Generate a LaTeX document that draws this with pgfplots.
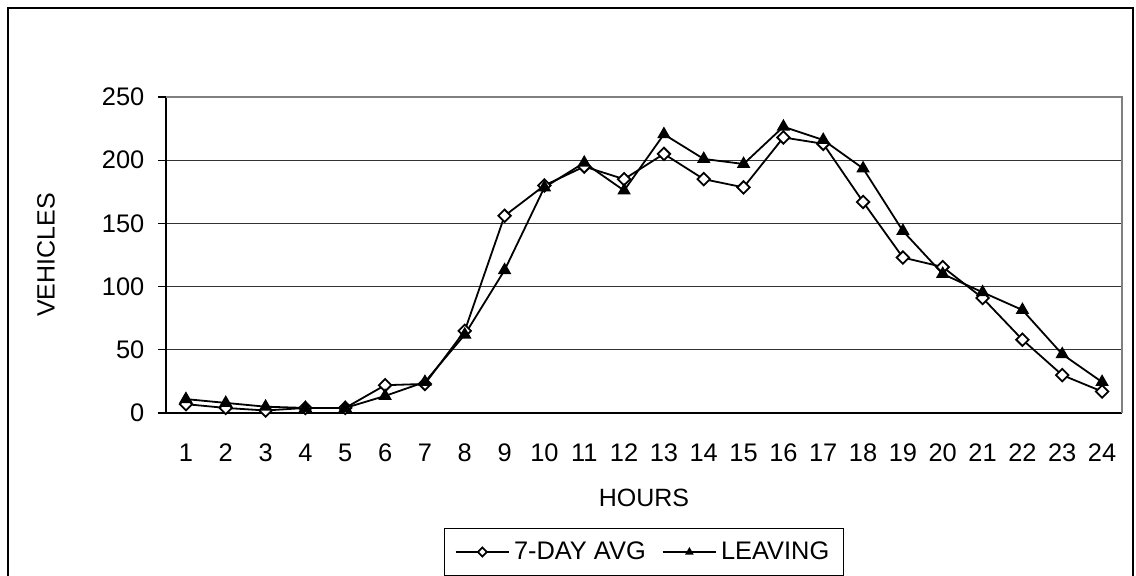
\documentclass[border=0pt]{standalone}
\usepackage{pgfplots}
\pgfplotsset{compat=1.18}
\usepackage{fontspec}
\setmainfont{Liberation Sans}
\begin{document}
\fontsize{12.5}{15}\selectfont
\begin{tikzpicture}
\useasboundingbox (0,0) rectangle (568pt,287.5pt);
\draw[black, line width=0.6pt] (4pt,-2pt) -- (4pt,283.5pt) -- (566.5pt,283.5pt) -- (566.5pt,-2pt);
\begin{axis}[
  at={(83pt,81pt)}, anchor=south west,
  scale only axis, width=478pt, height=158pt,
  xmin=0.5, xmax=24.5, ymin=0, ymax=250,
  xtick={1,...,24},
  minor xtick={0.5,1.5,...,24.5},
  ytick={0,50,...,250},
  tick align=outside,
  major tick length=4pt, minor tick length=4pt,
  xtick style={draw=none},
  minor x tick style={black, line width=0.6pt},
  y tick style={black, line width=0.6pt},
  ymajorgrids, grid style={black!80, line width=0.6pt},
  axis line style={line width=0.6pt},
  axis x line*=bottom, axis y line*=left,
  xticklabel style={yshift=-7pt},
  yticklabel style={xshift=-2.5pt},
  /pgf/number format/assume math mode=true,
  ticklabel style={font=\fontsize{12.7}{15}\selectfont},
  xlabel={HOURS}, ylabel={VEHICLES},
  xlabel style={at={(axis description cs:0.5,-0.268)}, anchor=center, font=\fontsize{12.5}{15}\selectfont},
  ylabel style={at={(axis description cs:-0.1255,0.5)}, anchor=center, font=\fontsize{12.5}{15}\selectfont},
  legend columns=2,
  legend style={at={(axis description cs:0.5,-0.44)}, anchor=center, draw=black, line width=0.6pt,
    font=\fontsize{12.7}{15}\selectfont, inner xsep=5pt, inner ysep=4.5pt,
    /tikz/every even column/.append style={column sep=6pt}},
  legend image code/.code={\draw[mark repeat=2,mark phase=2,#1,mark size=1.6pt] plot coordinates {(0cm,0cm) (0.47cm,0cm) (0.94cm,0cm)};},
  clip=false,
]
\draw[black!50, line width=0.6pt] (axis cs:0.5,250) -- (axis cs:24.5,250) -- (axis cs:24.5,0);
\addplot[black, line width=0.9pt, mark=square*, mark size=2.2pt, mark options={fill=white, line width=0.9pt, rotate=45}] coordinates {
(1,7) (2,4) (3,2) (4,4) (5,4) (6,22) (7,23) (8,65) (9,156) (10,180) (11,195) (12,185)
(13,205) (14,185) (15,178.5) (16,218) (17,213) (18,167) (19,123) (20,115.5) (21,91) (22,58) (23,30) (24,17)
};
\addlegendentry{7-DAY AVG}
\addplot[black, line width=0.9pt, mark=triangle*, mark size=3pt, mark options={fill=black}] coordinates {
(1,11) (2,8) (3,5) (4,4) (5,4) (6,13.5) (7,24.5) (8,62) (9,113) (10,178.5) (11,198) (12,176)
(13,220.5) (14,201) (15,197) (16,226.5) (17,216) (18,193.5) (19,144) (20,110) (21,95.5) (22,81.5) (23,46.5) (24,24.5)
};
\addlegendentry{LEAVING}
\end{axis}
\end{tikzpicture}
\end{document}
